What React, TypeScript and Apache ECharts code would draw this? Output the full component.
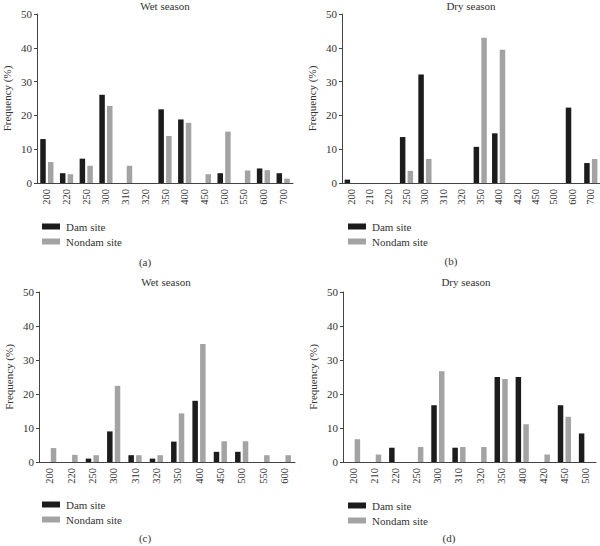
import React, { useEffect, useRef } from "react";
import * as echarts from "echarts";

const catsA = ["200", "220", "250", "300", "310", "320", "350", "400", "450", "500", "550", "600", "700"];
const damA = [13.0, 2.9, 7.2, 26.1, 0, 0, 21.8, 18.8, 0, 2.9, 0, 4.3, 2.9];
const nonA = [6.2, 2.6, 5.1, 22.8, 5.1, 0, 13.9, 17.8, 2.6, 15.2, 3.7, 3.8, 1.3];

const catsB = ["200", "210", "220", "250", "300", "310", "320", "350", "400", "420", "450", "500", "600", "700"];
const damB = [1.0, 0, 0, 13.6, 32.1, 0, 0, 10.7, 14.7, 0, 0, 0, 22.3, 5.9];
const nonB = [0, 0, 0, 3.6, 7.1, 0, 0, 43.0, 39.4, 0, 0, 0, 0, 7.1];

const catsC = ["200", "220", "250", "300", "310", "320", "350", "400", "450", "500", "550", "600"];
const damC = [0, 0, 1, 9, 2, 1, 6, 18, 3, 3, 0, 0];
const nonC = [4.1, 2.1, 2, 22.4, 2, 2, 14.3, 34.7, 6.1, 6.1, 2, 2];

const catsD = ["200", "210", "220", "250", "300", "310", "320", "350", "400", "420", "450", "500"];
const damD = [0, 0, 4.2, 0, 16.7, 4.2, 0, 25.0, 25.0, 0, 16.7, 8.4];
const nonD = [6.7, 2.2, 0, 4.4, 26.7, 4.4, 4.4, 24.4, 11.1, 2.2, 13.3, 0];

const yTicks = [0, 10, 20, 30, 40, 50];
const seriesNames = ["Dam site", "Nondam site"];
const panelTitles = ["Wet season", "Dry season", "Wet season", "Dry season"];
const panelLetters = ["(a)", "(b)", "(c)", "(d)"];

const FONT = "'Liberation Serif', 'DejaVu Serif', serif";
const TXT = "#333";
const DAM = "#1c1c1c";
const NON = "#a3a3a3";

const grids = [
  { left: 37, top: 14, width: 256, height: 169 },
  { left: 342, top: 14, width: 258, height: 169 },
  { left: 39, top: 292, width: 256, height: 170 },
  { left: 343, top: 292, width: 253, height: 170 },
];

export default function App() {
  const ref = useRef<HTMLDivElement>(null);
  useEffect(() => {
    if (!ref.current) return;
    const chart = echarts.init(ref.current, null, { renderer: "svg" });
    const cats = [catsA, catsB, catsC, catsD];
    const dams = [damA, damB, damC, damD];
    const nons = [nonA, nonB, nonC, nonD];

    const xAxis = cats.map((c, i) => ({
      type: "category",
      gridIndex: i,
      data: c,
      boundaryGap: true,
      axisLine: { lineStyle: { color: "#444", width: 1 } },
      axisTick: { alignWithLabel: true, length: 3, lineStyle: { color: "#444" } },
      axisLabel: { rotate: 90, margin: 6, fontSize: 10.5, color: TXT, fontFamily: FONT, interval: 0 },
    }));
    const yAxis = cats.map((_, i) => ({
      type: "value",
      gridIndex: i,
      min: yTicks[0],
      max: yTicks[yTicks.length - 1],
      interval: 10,
      name: "Frequency (%)",
      nameLocation: "middle",
      nameGap: 25,
      nameTextStyle: { fontSize: 11, color: TXT, fontFamily: FONT },
      splitLine: { show: false },
      axisLine: { show: true, lineStyle: { color: "#444", width: 1 } },
      axisTick: { show: true, length: 3, lineStyle: { color: "#444" } },
      axisLabel: { margin: 5, fontSize: 11, color: TXT, fontFamily: FONT },
    }));
    const series: any[] = [];
    cats.forEach((_, i) => {
      series.push({
        type: "bar",
        name: seriesNames[0],
        xAxisIndex: i,
        yAxisIndex: i,
        data: dams[i],
        barWidth: 5.5,
        barGap: "40%",
        itemStyle: { color: DAM },
      });
      series.push({
        type: "bar",
        name: seriesNames[1],
        xAxisIndex: i,
        yAxisIndex: i,
        data: nons[i],
        barWidth: 5.5,
        barGap: "40%",
        itemStyle: { color: NON },
      });
    });
    const legendPos = [
      { left: 37, top: 216 },
      { left: 343, top: 216 },
      { left: 37, top: 494 },
      { left: 343, top: 495 },
    ];
    const legend = legendPos.map((p) => ({
      ...p,
      orient: "vertical",
      data: seriesNames,
      itemWidth: 18,
      itemHeight: 6,
      itemGap: 4,
      icon: "rect",
      selectedMode: false,
      textStyle: { fontSize: 11, color: TXT, fontFamily: FONT, padding: [0, 0, 0, 1] },
    }));
    const titlePos = [
      [165, 6],
      [471, 6],
      [166, 282],
      [466, 282],
    ];
    const letterPos = [
      [145, 262],
      [451, 261],
      [145, 538],
      [449, 538],
    ];
    const graphic: any[] = [];
    titlePos.forEach((p, i) => {
      graphic.push({
        type: "text",
        x: p[0],
        y: p[1],
        style: { text: panelTitles[i], fontSize: 11, fill: TXT, fontFamily: FONT, align: "center", verticalAlign: "middle" },
      });
    });
    letterPos.forEach((p, i) => {
      graphic.push({
        type: "text",
        x: p[0],
        y: p[1],
        style: { text: panelLetters[i], fontSize: 11, fill: TXT, fontFamily: FONT, align: "center", verticalAlign: "middle" },
      });
    });

    chart.setOption({
      animation: false,
      backgroundColor: "#fff",
      grid: grids,
      xAxis,
      yAxis,
      series,
      legend,
      graphic,
    });
    return () => chart.dispose();
  }, []);
  return <div ref={ref} style={{ width: 600, height: 546, position: "absolute", left: 0, top: 0 }} />;
}
